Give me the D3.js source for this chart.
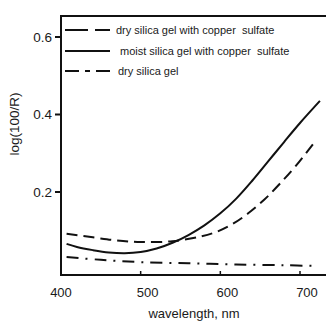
<!DOCTYPE html>
<html>
<head>
<meta charset="utf-8">
<script src="https://cdn.jsdelivr.net/npm/d3@7"></script>
<style>
  html, body { margin: 0; padding: 0; background: #fff; }
  svg { display: block; }
  text { font-family: "Liberation Sans", Arial, sans-serif; fill: #1a1a1a; white-space: pre; }
</style>
</head>
<body>
<svg id="chart" width="326" height="322"></svg>
<script>
// ---- data ----
const moistWl  = [407, 420, 440, 460, 480, 500, 520, 540, 560, 580, 600, 620, 640, 660, 680, 700, 725];
const moistVal = [0.066, 0.058, 0.050, 0.044, 0.042, 0.045, 0.054, 0.069, 0.089, 0.114, 0.145, 0.183, 0.229, 0.279, 0.329, 0.378, 0.435];

const dryCuWl  = [407, 440, 470, 500, 540, 575, 595, 615, 635, 655, 675, 695, 718];
const dryCuVal = [0.092, 0.083, 0.075, 0.071, 0.073, 0.085, 0.097, 0.117, 0.145, 0.180, 0.222, 0.268, 0.328];

const dryWl  = [407, 450, 500, 560, 620, 680, 723];
const dryVal = [0.032, 0.025, 0.019, 0.016, 0.013, 0.011, 0.009];

const xTicks = [400, 500, 600, 700];
const yTicks = [0.2, 0.4, 0.6];
const legendLabels = [
  "dry silica gel with copper  sulfate",
  "moist silica gel with copper  sulfate",
  "dry silica gel"
];
const xTitle = "wavelength, nm";
const yTitle = "log(100/R)";

// ---- layout ----
const svg = d3.select("#chart");
const pLeft = 61, pRight = 326, pTop = 16, pBottom = 275;

const x = d3.scaleLinear().domain([400, 700]).range([61, 300]);
const y = d3.scaleLinear().domain([0, 0.6]).range([269.5, 37]);

const line = d3.line().x(d => x(d[0])).y(d => y(d[1])).curve(d3.curveCatmullRom.alpha(0.5));

// frame: top, left, bottom
svg.append("line").attr("x1", pLeft).attr("x2", pRight).attr("y1", pTop).attr("y2", pTop)
  .attr("stroke", "#111").attr("stroke-width", 2);
svg.append("line").attr("x1", pLeft).attr("x2", pLeft).attr("y1", pTop - 1).attr("y2", pBottom + 1)
  .attr("stroke", "#111").attr("stroke-width", 2);
svg.append("line").attr("x1", pLeft).attr("x2", pRight).attr("y1", pBottom).attr("y2", pBottom)
  .attr("stroke", "#111").attr("stroke-width", 2);

// y ticks (outward)
const yg = svg.append("g");
yTicks.forEach(t => {
  yg.append("line").attr("x1", pLeft - 6).attr("x2", pLeft).attr("y1", y(t)).attr("y2", y(t))
    .attr("stroke", "#111").attr("stroke-width", 2);
  yg.append("text").attr("x", 52).attr("y", y(t)).attr("dy", "0.36em")
    .attr("text-anchor", "end").attr("font-size", 13.5).text(String(t));
});

// x ticks (inward)
const xg = svg.append("g");
xTicks.forEach(t => {
  if (t > 400) {
    xg.append("line").attr("x1", x(t)).attr("x2", x(t)).attr("y1", pBottom).attr("y2", pBottom - 4)
      .attr("stroke", "#111").attr("stroke-width", 1.5);
  }
  xg.append("text").attr("x", x(t) + (t === 400 ? 0 : 7)).attr("y", 297)
    .attr("text-anchor", "middle").attr("font-size", 13).text(String(t));
});

// axis titles
svg.append("text").attr("x", 194).attr("y", 318).attr("text-anchor", "middle")
  .attr("font-size", 13).text(xTitle);
svg.append("text").attr("transform", "translate(19,124) rotate(-90)")
  .attr("text-anchor", "middle").attr("font-size", 13.5).text(yTitle);

// curves
const series = [
  { wl: dryCuWl, val: dryCuVal, dash: "11,6" },
  { wl: moistWl, val: moistVal, dash: null },
  { wl: dryWl,   val: dryVal,   dash: "12,7,2,7" }
];
series.forEach(s => {
  const pts = s.wl.map((w, i) => [w, s.val[i]]);
  svg.append("path").attr("d", line(pts)).attr("fill", "none")
    .attr("stroke", "#111").attr("stroke-width", 2)
    .attr("stroke-dasharray", s.dash);
});

// legend
const legDash = ["23,7", null, "14,6,5,6"];
const legY = [30, 51, 71];
const legTextX = [116, 120, 118];
legendLabels.forEach((lab, i) => {
  svg.append("line").attr("x1", 65).attr("x2", 110).attr("y1", legY[i]).attr("y2", legY[i])
    .attr("stroke", "#111").attr("stroke-width", 2).attr("stroke-dasharray", legDash[i]);
  svg.append("text").attr("x", legTextX[i]).attr("y", legY[i]).attr("dy", "0.35em")
    .attr("font-size", 11).text(lab);
});
</script>
</body>
</html>
